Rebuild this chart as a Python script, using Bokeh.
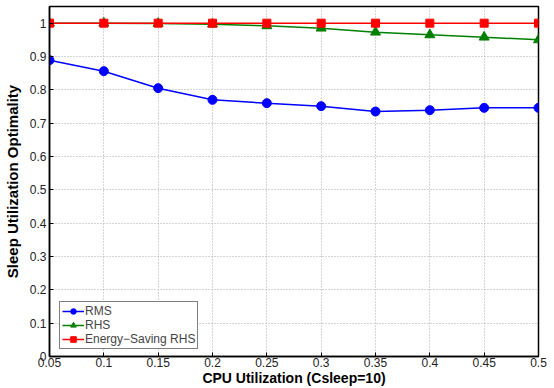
from bokeh.plotting import figure
from bokeh.models import FixedTicker, Legend, LegendItem, Range1d
from bokeh.embed import file_html
from bokeh.resources import INLINE

x_vals = [0.05, 0.1, 0.15, 0.2, 0.25, 0.3, 0.35, 0.4, 0.45, 0.5]
rms = [0.889, 0.856, 0.805, 0.770, 0.760, 0.751, 0.735, 0.739, 0.746, 0.746]
rhs = [1.0, 1.0, 0.999, 0.997, 0.992, 0.985, 0.973, 0.965, 0.958, 0.950]
es_rhs = [1.0, 1.0, 1.0, 1.0, 1.0, 1.0, 1.0, 1.0, 1.0, 1.0]
x_ticks = [0.05, 0.1, 0.15, 0.2, 0.25, 0.3, 0.35, 0.4, 0.45, 0.5]
x_tick_labels = ["0.05", "0.1", "0.15", "0.2", "0.25", "0.3", "0.35", "0.4", "0.45", "0.5"]
y_ticks = [0, 0.1, 0.2, 0.3, 0.4, 0.5, 0.6, 0.7, 0.8, 0.9, 1.0]
y_tick_labels = ["0", "0.1", "0.2", "0.3", "0.4", "0.5", "0.6", "0.7", "0.8", "0.9", "1"]

FONT = "Liberation Sans"

p = figure(width=554, height=388, output_backend="svg", toolbar_location=None,
           x_range=Range1d(0.05, 0.5), y_range=Range1d(0, 1.05),
           min_border_left=49, min_border_right=16, min_border_top=6, min_border_bottom=31,
           x_axis_label="CPU Utilization (Csleep=10)", y_axis_label="Sleep Utilization Optimality")
p.outline_line_color = "black"
p.outline_line_width = 1.5
p.background_fill_color = "white"
p.border_fill_color = "white"

for ax in [p.xaxis[0], p.yaxis[0]]:
    ax.major_tick_in = 4
    ax.major_tick_out = 0
    ax.minor_tick_line_color = None
    ax.axis_line_width = 1.5
    ax.axis_line_color = "black"
    ax.major_tick_line_color = "black"
    ax.major_label_text_font = FONT
    ax.major_label_text_font_size = "12px"
    ax.major_label_text_color = "#222222"
    ax.axis_label_text_font = FONT
    ax.axis_label_text_font_style = "bold"
    ax.axis_label_text_color = "black"

p.xaxis[0].ticker = FixedTicker(ticks=x_ticks)
p.xaxis[0].major_label_overrides = {t: l for t, l in zip(x_ticks, x_tick_labels)}
p.xaxis[0].major_label_standoff = 1
p.xaxis[0].axis_label_standoff = 0
p.xaxis[0].axis_label_text_font_size = "14px"
p.yaxis[0].ticker = FixedTicker(ticks=y_ticks)
p.yaxis[0].major_label_overrides = {t: l for t, l in zip(y_ticks, y_tick_labels)}
p.yaxis[0].major_label_standoff = 3
p.yaxis[0].axis_label_standoff = 6
p.yaxis[0].axis_label_text_font_size = "15px"

p.xgrid.ticker = FixedTicker(ticks=x_ticks)
p.ygrid.ticker = FixedTicker(ticks=y_ticks)
for g in [p.xgrid, p.ygrid]:
    g.grid_line_color = "#aaaaaa"
    g.grid_line_dash = "1 2"
    g.grid_line_width = 1

l1 = p.line(x_vals, rms, line_color="blue", line_width=1.5)
m1 = p.scatter(x_vals, rms, marker="circle", size=9, fill_color="blue", line_color="blue")
l2 = p.line(x_vals, rhs, line_color="green", line_width=1.5)
m2 = p.scatter(x_vals, rhs, marker="triangle", size=10, fill_color="green", line_color="green")
l3 = p.line(x_vals, es_rhs, line_color="red", line_width=1.5)
m3 = p.scatter(x_vals, es_rhs, marker="square", size=8, fill_color="red", line_color="red")

legend = Legend(items=[
    LegendItem(label="RMS", renderers=[l1, m1]),
    LegendItem(label="RHS", renderers=[l2, m2]),
    LegendItem(label="Energy\u2212Saving RHS", renderers=[l3, m3]),
], location=(10, 7))
legend.label_text_font = FONT
legend.label_text_font_size = "12px"
legend.label_height = 14
legend.glyph_height = 14
legend.glyph_width = 22
legend.spacing = 0
legend.padding = 2
legend.margin = 0
legend.label_standoff = 1
legend.border_line_color = "black"
legend.border_line_width = 1.5
legend.background_fill_alpha = 1
p.add_layout(legend, "center")

open("out.html", "w").write(file_html(p, INLINE))
